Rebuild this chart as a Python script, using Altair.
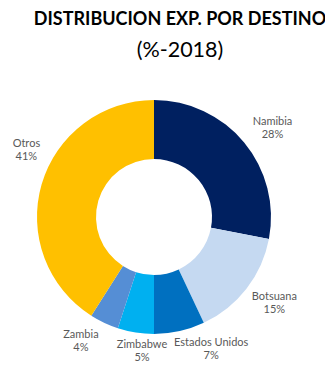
import altair as alt
import pandas as pd

paises = ["Namibia", "Botsuana", "Estados Unidos", "Zimbabwe", "Zambia", "Otros"]
valores = [28, 15, 7, 5, 4, 41]
colores = ["#002060", "#C5D9F1", "#0070C0", "#00B0F0", "#558ED5", "#FFC000"]

# label placement (like Excel's "best fit" data labels): angular shift (deg) and distance from centre
desvio_etiqueta = [2.8, -2.2, -10.8, -3.9, 5.3, 11.4]
radio_etiqueta = [148, 148, 144, 135, 144, 144]

W = 292
H = 292

df = pd.DataFrame({
    "pais": paises,
    "valor": valores,
    "orden": list(range(len(paises))),
    "desvio": desvio_etiqueta,
    "radio": radio_etiqueta,
})

arcs = alt.Chart(df).mark_arc(innerRadius=58, outerRadius=117).encode(
    theta=alt.Theta("valor:Q", stack=True),
    order=alt.Order("orden:Q"),
    color=alt.Color("pais:N", scale=alt.Scale(domain=paises, range=colores), legend=None),
)

labels = alt.Chart(df).transform_joinaggregate(
    total="sum(valor)"
).transform_window(
    acum="sum(valor)", sort=[alt.SortField("orden")], frame=[None, 0]
).transform_calculate(
    ang="((datum.acum - datum.valor / 2) / datum.total * 360 + datum.desvio) * PI / 180",
    etiqueta="datum.pais + '\\n' + datum.valor + '%'",
).transform_calculate(
    px=f"{W / 2} + datum.radio * sin(datum.ang)",
    py=f"{H / 2} - datum.radio * cos(datum.ang)",
).mark_text(
    fontSize=11, font="Lato", color="#595959", lineBreak="\n", lineHeight=13,
    align="center", baseline="middle", dy=-6.5,
).encode(
    x=alt.X("px:Q", scale=None),
    y=alt.Y("py:Q", scale=None),
    text="etiqueta:N",
)

chart = alt.layer(arcs, labels).properties(
    width=W,
    height=H,
    autosize=alt.AutoSizeParams(type="none"),
    padding={"left": 0, "top": 63, "right": 25, "bottom": 4},
    title=alt.TitleParams(
        text="DISTRIBUCION EXP. POR DESTINO",
        subtitle="(%-2018)",
        anchor="middle",
        dx=26,
        fontSize=18,
        font="Lato",
        fontWeight="bold",
        color="#000000",
        subtitleFont="Lato",
        subtitleFontSize=21.5,
        subtitleColor="#000000",
        subtitlePadding=11,
        offset=10,
    ),
).configure_view(stroke=None)

chart.save("out.html", embed_options={"renderer": "svg", "actions": False})
